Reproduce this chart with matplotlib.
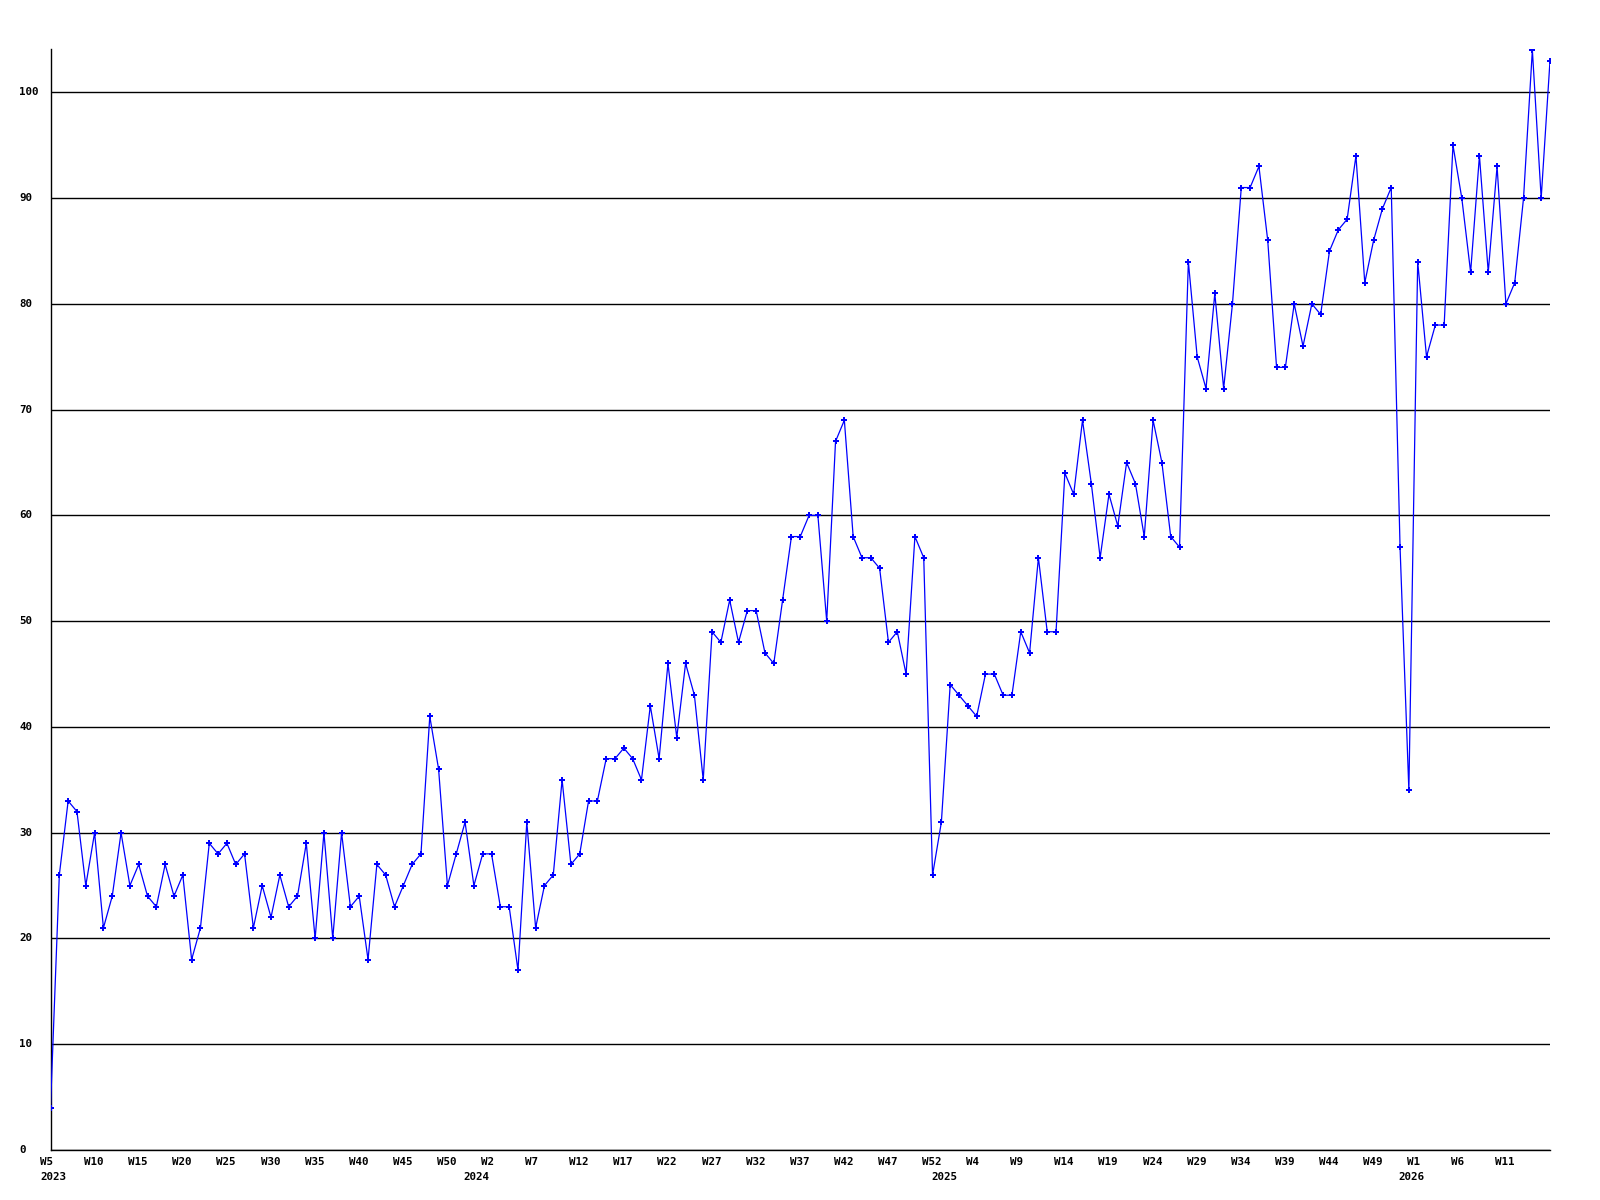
import matplotlib
matplotlib.use("Agg")
import matplotlib.pyplot as plt
from matplotlib import transforms

# Weekly values, 2023 W5 .. 2026 W16 (171 points)
values = [
    4, 26, 33, 32, 25, 30, 21, 24, 30, 25,
    27, 24, 23, 27, 24, 26, 18, 21, 29, 28,
    29, 27, 28, 21, 25, 22, 26, 23, 24, 29,
    20, 30, 20, 30, 23, 24, 18, 27, 26, 23,
    25, 27, 28, 41, 36, 25, 28, 31, 25, 28,
    28, 23, 23, 17, 31, 21, 25, 26, 35, 27,
    28, 33, 33, 37, 37, 38, 37, 35, 42, 37,
    46, 39, 46, 43, 35, 49, 48, 52, 48, 51,
    51, 47, 46, 52, 58, 58, 60, 60, 50, 67,
    69, 58, 56, 56, 55, 48, 49, 45, 58, 56,
    26, 31, 44, 43, 42, 41, 45, 45, 43, 43,
    49, 47, 56, 49, 49, 64, 62, 69, 63, 56,
    62, 59, 65, 63, 58, 69, 65, 58, 57, 84,
    75, 72, 81, 72, 80, 91, 91, 93, 86, 74,
    74, 80, 76, 80, 79, 85, 87, 88, 94, 82,
    86, 89, 91, 57, 34, 84, 75, 78, 78, 95,
    90, 83, 94, 83, 93, 80, 82, 90, 104, 90,
    103,
]

# x tick labels, one every 5 points
week_labels = ["W5", "W10", "W15", "W20", "W25", "W30", "W35", "W40", "W45", "W50",
               "W2", "W7", "W12", "W17", "W22", "W27", "W32", "W37", "W42", "W47", "W52",
               "W4", "W9", "W14", "W19", "W24", "W29", "W34", "W39", "W44", "W49",
               "W1", "W6", "W11"]
year_labels = ["2023", "2024", "2025", "2026"]
year_start_index = [0, 48, 101, 154]
y_ticks = [0, 10, 20, 30, 40, 50, 60, 70, 80, 90, 100]

W, H = 1600, 1200
fig = plt.figure(figsize=(16, 12), dpi=100)
ax = fig.add_axes([50.5 / W, 1 - 1150 / H, (1550 - 50.5) / W, (1150 - 49) / H])

x = list(range(len(values)))
ax.plot(x, values, color="#0000ff", lw=0.9, marker="P", markersize=4.2,
        markerfacecolor="#0000ff", markeredgewidth=0, zorder=3)

ax.set_xlim(0, len(values) - 1)
ax.set_ylim(0, 104.1)
ax.set_yticks(y_ticks)
ax.set_xticks([])
ax.yaxis.grid(True, color="black", lw=1.0)
ax.tick_params(axis="both", length=0, labelleft=False, labelbottom=False)
for s in ["top", "right"]:
    ax.spines[s].set_visible(False)
for s in ["left", "bottom"]:
    ax.spines[s].set_color("black")
    ax.spines[s].set_linewidth(1.0)

font = dict(family="DejaVu Sans Mono", fontweight="bold", fontsize=7.8, color="black")

# y tick labels, left aligned near the figure edge
ytrans = transforms.blended_transform_factory(fig.transFigure, ax.transData)
for v in y_ticks:
    ax.text(19.5 / W, v, str(v), transform=ytrans, ha="left", va="center", **font)

# x tick labels, left aligned slightly before each tick
off = transforms.ScaledTranslation(-10.5 / 100, 0, fig.dpi_scale_trans)
xtrans = transforms.blended_transform_factory(ax.transData, fig.transFigure) + off
for i, lab in enumerate(week_labels):
    ax.text(i * 5, 1 - 1162 / H, lab, transform=xtrans, ha="left", va="center", **font)
for idx, lab in zip(year_start_index, year_labels):
    ax.text(idx, 1 - 1177 / H, lab, transform=xtrans, ha="left", va="center", **font)

fig.savefig("out.png", dpi=100, facecolor="white")
